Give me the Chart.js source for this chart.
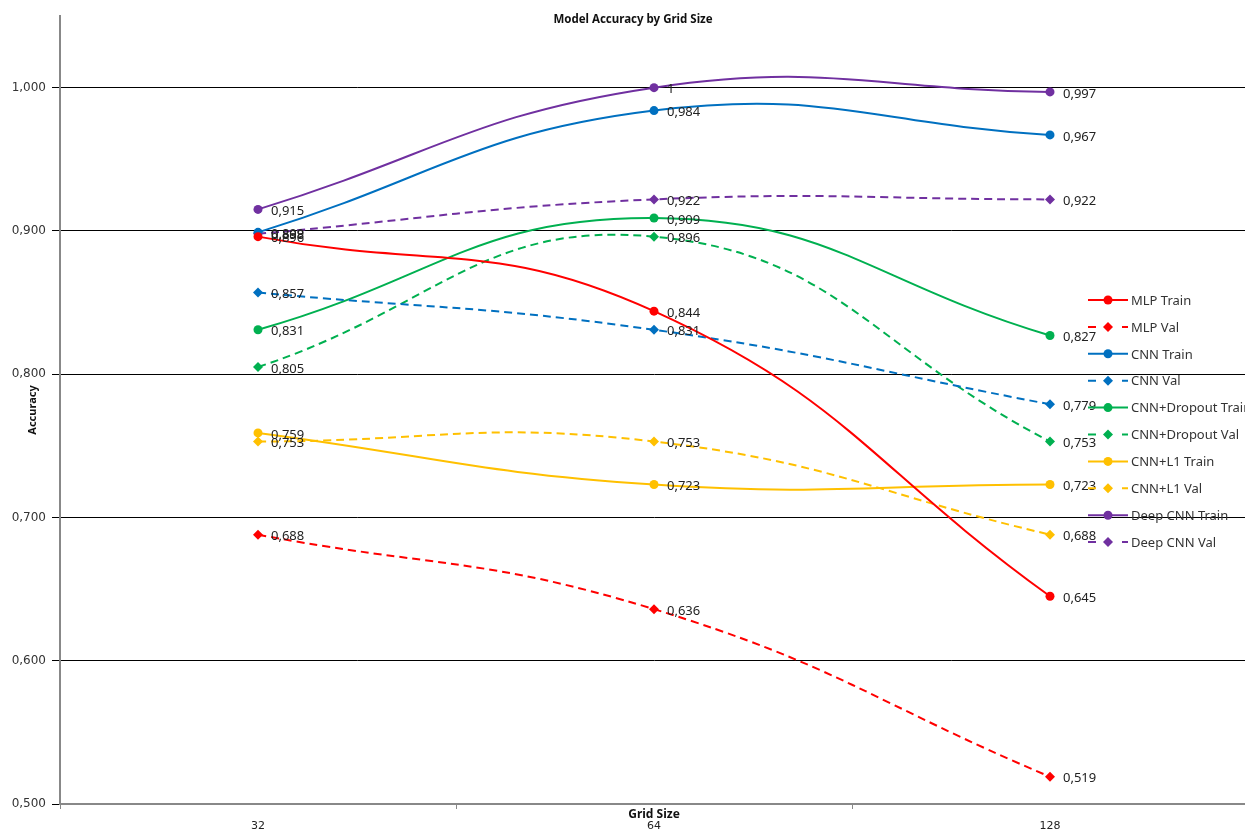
<!DOCTYPE html>
<html>
<head>
<meta charset="utf-8">
<script src="https://cdn.jsdelivr.net/npm/chart.js@4.4.1/dist/chart.umd.min.js"></script>
<style>
  html, body { margin: 0; padding: 0; background: #fff; overflow: hidden; }
  #wrap { width: 1245px; height: 829px; position: relative; overflow: hidden; }
  #c { display: block; }
</style>
</head>
<body>
<!-- the plot runs a few pixels past the right edge, like the cut-off legend -->
<div id="wrap"><canvas id="c" width="1248" height="829"></canvas></div>
<script>
// Grid sizes on the x axis
const gridSizes = ['32', '64', '128'];
// Accuracy tick values on the y axis
const yTicks = [0.5, 0.6, 0.7, 0.8, 0.9, 1.0];

// Accuracy per model and split
const mlpTrain      = [0.896, 0.844, 0.645];
const mlpVal        = [0.688, 0.636, 0.519];
const cnnTrain      = [0.899, 0.984, 0.967];
const cnnVal        = [0.857, 0.831, 0.779];
const dropoutTrain  = [0.831, 0.909, 0.827];
const dropoutVal    = [0.805, 0.896, 0.753];
const l1Train       = [0.759, 0.723, 0.723];
const l1Val         = [0.753, 0.753, 0.688];
const deepTrain     = [0.915, 1.000, 0.997];
const deepVal       = [0.898, 0.922, 0.922];

const seriesNames = ['MLP Train', 'MLP Val', 'CNN Train', 'CNN Val',
  'CNN+Dropout Train', 'CNN+Dropout Val', 'CNN+L1 Train', 'CNN+L1 Val',
  'Deep CNN Train', 'Deep CNN Val'];
const seriesValues = [mlpTrain, mlpVal, cnnTrain, cnnVal, dropoutTrain,
  dropoutVal, l1Train, l1Val, deepTrain, deepVal];
const seriesColors = ['#FF0000', '#FF0000', '#0070C0', '#0070C0', '#00B050',
  '#00B050', '#FFC000', '#FFC000', '#7030A0', '#7030A0'];

const DASH = [8, 5];

const datasets = seriesNames.map((name, i) => {
  const isVal = i % 2 === 1;
  return {
    label: name,
    data: seriesValues[i],
    borderColor: seriesColors[i],
    backgroundColor: seriesColors[i],
    borderWidth: 2,
    borderDash: isVal ? DASH : [],
    pointStyle: isVal ? 'rectRot' : 'circle',
    pointRadius: isVal ? 5 : 4.5,
    pointBorderWidth: 0,
    pointBackgroundColor: seriesColors[i],
    tension: 0.45,
    fill: false
  };
});

const fmt = v => String(+v.toFixed(3)).replace('.', ',');

// Title, axis titles, value labels and the legend box
const decorations = {
  id: 'decorations',
  afterDatasetsDraw(chart) {
    const ctx = chart.ctx;
    ctx.save();
    // value labels beside every point
    ctx.font = '13px "Noto Sans", sans-serif';
    ctx.fillStyle = '#222';
    ctx.textAlign = 'left';
    ctx.textBaseline = 'middle';
    chart.data.datasets.forEach((ds, i) => {
      const meta = chart.getDatasetMeta(i);
      meta.data.forEach((pt, j) => {
        ctx.fillText(fmt(ds.data[j]), pt.x + 13, pt.y + 2);
      });
    });

    // legend
    const lx = 1088, ly0 = 300, step = 26.9;
    chart.data.datasets.forEach((ds, i) => {
      const y = ly0 + i * step;
      ctx.strokeStyle = ds.borderColor;
      ctx.lineWidth = 2;
      ctx.setLineDash(ds.borderDash);
      ctx.beginPath();
      if (ds.borderDash.length) {
        ctx.moveTo(lx, y); ctx.lineTo(lx + 10, y);
        ctx.moveTo(lx + 34, y); ctx.lineTo(lx + 40, y);
      } else {
        ctx.moveTo(lx, y); ctx.lineTo(lx + 40, y);
      }
      ctx.stroke();
      ctx.setLineDash([]);
      ctx.fillStyle = ds.borderColor;
      const cx = lx + 20;
      ctx.beginPath();
      if (ds.pointStyle === 'rectRot') {
        ctx.moveTo(cx, y - 5); ctx.lineTo(cx + 5, y); ctx.lineTo(cx, y + 5); ctx.lineTo(cx - 5, y);
        ctx.closePath();
      } else {
        ctx.arc(cx, y, 4.5, 0, Math.PI * 2);
      }
      ctx.fill();
      ctx.fillStyle = '#333';
      ctx.font = '13px "Noto Sans", sans-serif';
      ctx.textBaseline = 'middle';
      ctx.fillText(ds.label, lx + 43, y + 1);
    });

    // chart title
    ctx.fillStyle = '#111';
    ctx.textAlign = 'center';
    ctx.font = 'bold 11.5px "Noto Sans", sans-serif';
    ctx.fillText('Model Accuracy by Grid Size', 633, 20);

    // x axis title
    ctx.font = 'bold 12px "Noto Sans", sans-serif';
    ctx.fillText('Grid Size', 654, 815);

    // y axis title
    ctx.save();
    ctx.translate(33, 410);
    ctx.rotate(-Math.PI / 2);
    ctx.font = 'bold 11px "Noto Sans", sans-serif';
    ctx.fillText('Accuracy', 0, 0);
    ctx.restore();
    ctx.restore();
  }
};

new Chart(document.getElementById('c'), {
  type: 'line',
  data: { labels: gridSizes, datasets },
  plugins: [decorations],
  options: {
    responsive: false,
    animation: false,
    layout: { autoPadding: false, padding: { top: 16, right: 0, left: 0, bottom: 0 } },
    plugins: {
      legend: { display: false },
      title: { display: false },
      tooltip: { enabled: false }
    },
    scales: {
      x: {
        type: 'category',
        offset: true,
        afterFit(s) { s.height = 25; s.paddingLeft = 0; s.paddingRight = 0; },
        grid: {
          offset: true,
          drawOnChartArea: false,
          drawTicks: true,
          tickLength: 5,
          color: '#888',
          lineWidth: 1
        },
        border: { color: '#888', width: 2 },
        ticks: {
          color: '#222',
          font: { family: 'DejaVu Sans', size: 11 },
          padding: 11
        }
      },
      y: {
        min: 0.5,
        max: 1.05,
        afterFit(s) { s.width = 60; s.paddingTop = 0; s.paddingBottom = 0; },
        afterBuildTicks(s) { s.ticks = yTicks.map(v => ({ value: v })); },
        grid: {
          color: '#000',
          lineWidth: 1,
          tickLength: 8
        },
        border: { color: '#888', width: 2 },
        ticks: {
          color: '#333',
          font: { family: 'DejaVu Sans', size: 12 },
          padding: 6,
          callback: v => v.toFixed(3).replace('.', ',')
        }
      }
    }
  }
});
</script>
</body>
</html>
